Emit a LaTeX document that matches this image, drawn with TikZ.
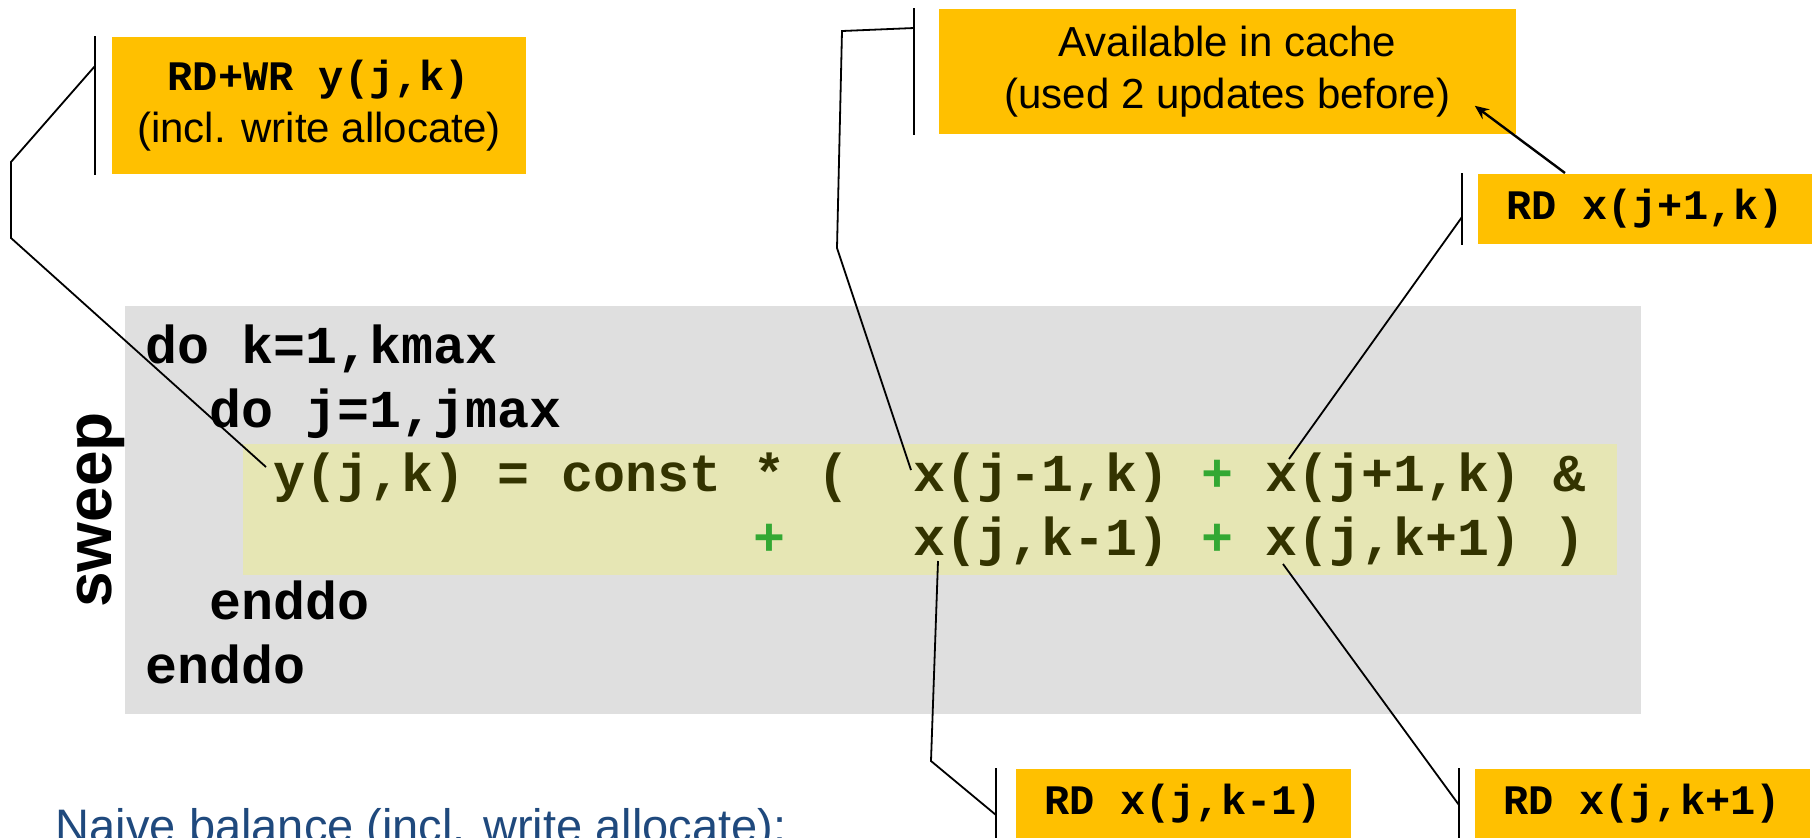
\documentclass[tikz,border=0pt]{standalone}
\usepackage{fontspec}
\setmainfont{Liberation Sans}
\setmonofont{Liberation Mono}
\usetikzlibrary{arrows.meta}

\definecolor{boxorange}{HTML}{FFC000}
\definecolor{codegray}{HTML}{DFDFDF}
\definecolor{stmtyellow}{HTML}{E6E6B4}
\definecolor{stmtolive}{HTML}{333300}
\definecolor{opgreen}{HTML}{33A833}
\definecolor{naiveblue}{HTML}{1F497D}

\newcommand{\codesize}{\fontsize{26.67pt}{32pt}\selectfont}
\newcommand{\notesize}{\fontsize{21pt}{26pt}\selectfont}

\tikzset{every picture/.style={line width=0.9pt}}
\tikzset{
	note/.style={fill=boxorange, inner sep=0pt, align=center, anchor=north west, font=\notesize},
	code/.style={font=\codesize\ttfamily\bfseries, inner sep=0pt, anchor=base west},
	stmt/.style={code, text=stmtolive},
	plus/.style={code, text=opgreen},
}

\begin{document}
\begin{tikzpicture}[x=0.5pt,y=0.5pt,yscale=-1]
	\useasboundingbox (0,0) rectangle (1812,837);
	
	%Shape: Rectangle [code block]
	\fill [codegray] (125,306) rectangle (1641,714);
	%Shape: Rectangle [loop body]
	\fill [stmtyellow] (243,444) rectangle (1617,575);
	
	% Code lines
	\node [code] (dok) at (145,363) {do k=1,kmax};
	\node [code] (doj) at (209,427) {do j=1,jmax};
	\node [stmt] (ylhs) at (273,491) {y(j,k) = const * (};
	\node [stmt] (xjm) at (913,491) {x(j-1,k)};
	\node [plus] (pa) at (1201,491) {+};
	\node [stmt] (xjp) at (1265,491) {x(j+1,k)};
	\node [stmt] (amp) at (1553,491) {\&};
	\node [plus] (pb) at (753,555) {+};
	\node [stmt] (xkm) at (913,555) {x(j,k-1)};
	\node [plus] (pc) at (1201,555) {+};
	\node [stmt] (xkp) at (1265,555) {x(j,k+1)};
	\node [stmt] (rpar) at (1553,555) {)};
	\node [code] (endj) at (209,619) {enddo};
	\node [code] (endk) at (145,683) {enddo};
	
	% Text Node
	\node [rotate=90, anchor=base, inner sep=0pt, font=\fontsize{32pt}{38pt}\selectfont\bfseries] (sweep) at (112,510) {sweep};
	
	% Callout boxes
	\node [note, minimum width=207pt, minimum height=68.5pt] (rdwr) at (111,36) {{\ttfamily\bfseries RD+WR y(j,k)}\\(incl. write allocate)};
	\node [note, minimum width=288.5pt, minimum height=62.5pt] (cache) at (938,8) {Available in cache\\(used 2 updates before)};
	\node [note, minimum width=167.5pt, minimum height=35pt] (rdjp) at (1477,173) {\ttfamily\bfseries RD x(j+1,k)};
	\node [note, minimum width=167.5pt, minimum height=35pt] (rdkm) at (1015,768) {\ttfamily\bfseries RD x(j,k-1)};
	\node [note, minimum width=167.5pt, minimum height=35pt] (rdkp) at (1474,768) {\ttfamily\bfseries RD x(j,k+1)};
	
	%Straight Lines [bars]
	\draw ([xshift=-8pt]rdwr.north west) -- ([xshift=-8pt]rdwr.south west);
	\draw ([xshift=-12pt]cache.north west) -- ([xshift=-12pt]cache.south west);
	\draw ([xshift=-7.5pt]rdjp.north west) -- ([xshift=-7.5pt]rdjp.south west);
	\draw ([xshift=-9.5pt]rdkm.north west) -- ([xshift=-9.5pt]rdkm.south west);
	\draw ([xshift=-7.5pt]rdkp.north west) -- ([xshift=-7.5pt]rdkp.south west);
	
	%Straight Lines [connectors]
	\draw ([xshift=-8pt,yshift=15pt]rdwr.north west) -- (11,162) -- (11,238) -- ([xshift=-3.5pt,yshift=-12pt]ylhs.base west);
	\draw ([xshift=-12pt,yshift=10pt]cache.north west) -- (842,31) -- (837,248) -- ([xshift=-1pt,yshift=-10.5pt]xjm.base west);
	\draw ([xshift=-7.5pt,yshift=22pt]rdjp.north west) -- ([xshift=12pt,yshift=-16pt]xjp.base west);
	\draw ([xshift=12.5pt,yshift=3pt]xkm.base west) -- (931,761) -- ([xshift=-9.5pt,yshift=23.5pt]rdkm.north west);
	\draw ([xshift=9pt,yshift=4.5pt]xkp.base west) -- ([xshift=-7.5pt,yshift=18.5pt]rdkp.north west);
	
	%Arrow
	\draw [line width=1.2pt, -{Stealth[length=7pt,width=6pt]}] ([xshift=44pt]rdjp.north west) -- ([xshift=-21pt,yshift=-14.5pt]cache.south east);
	
	% Text Node
	\node [anchor=base west, inner sep=0pt, text=naiveblue, font=\fontsize{23.5pt}{28pt}\selectfont] (naive) at (55,842) {Naive balance (incl. write allocate):};
	
\end{tikzpicture}
\end{document}
